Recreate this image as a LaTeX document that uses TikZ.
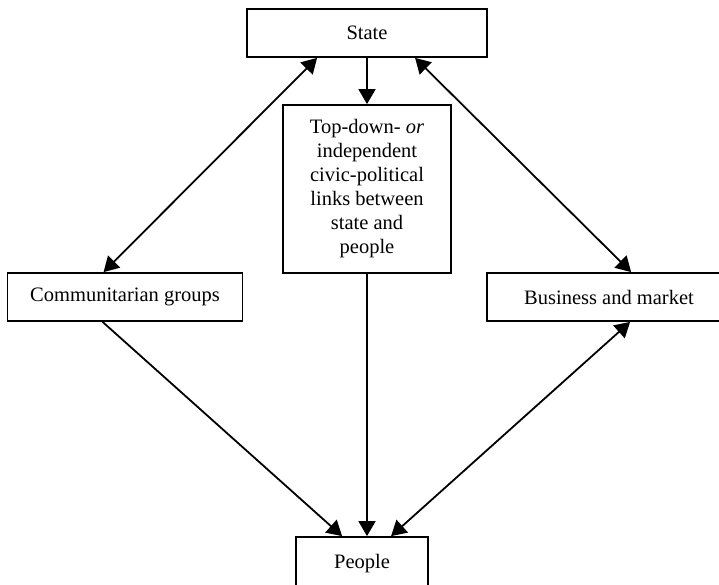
\documentclass[tikz,border=0pt]{standalone}
\usepackage{fontspec}
\setmainfont{Liberation Serif}
\usetikzlibrary{arrows.meta,calc}
\begin{document}
\begin{tikzpicture}[x=1pt,y=-1pt,
  box/.style={draw=black,line width=1.8pt,rectangle,inner sep=0pt,align=center,
    font=\fontsize{20.5}{24}\selectfont},
  conn/.style={line width=1.8pt,{Triangle[length=15pt,width=17pt]}-{Triangle[length=15pt,width=17pt]}},
  oneway/.style={line width=1.8pt,-{Triangle[length=15pt,width=17pt]}}]
\useasboundingbox (0,0) rectangle (719,584);
\node[box,minimum width=240pt,minimum height=48pt] (state) at (367,33) {State};
\node[box,minimum width=168pt,minimum height=168pt] (mid) at (367,189)
  {Top-down- \textit{or}\\independent\\civic-political\\links between\\state and\\people};
\node[box,minimum width=235pt,minimum height=48pt] (comm) at (125,297) {Communitarian groups};
\node[box,minimum width=244pt,minimum height=48pt] (bus) at (609,297) {Business and market};
\node[box,minimum width=132pt,minimum height=54pt] (people) at (362,564) {People};
\coordinate (sL) at ($(state.south west)+(71,0)$);
\coordinate (sR) at ($(state.south west)+(169,0)$);
\coordinate (cN) at ($(comm.north west)+(97,0)$);
\coordinate (cS) at ($(comm.south west)+(96,0)$);
\coordinate (bN) at ($(bus.north west)+(145,0)$);
\coordinate (bS) at ($(bus.south west)+(144,0)$);
\coordinate (pL) at ($(people.north west)+(47,0)$);
\coordinate (pR) at ($(people.north west)+(96,0)$);
\draw[conn] (sL) -- (cN);
\draw[conn] (sR) -- (bN);
\draw[oneway] (state.south) -- (mid.north);
\draw[oneway] (cS) -- (pL);
\draw[oneway] (mid.south) -- (mid.south |- people.north);
\draw[conn] (bS) -- (pR);
\end{tikzpicture}
\end{document}
